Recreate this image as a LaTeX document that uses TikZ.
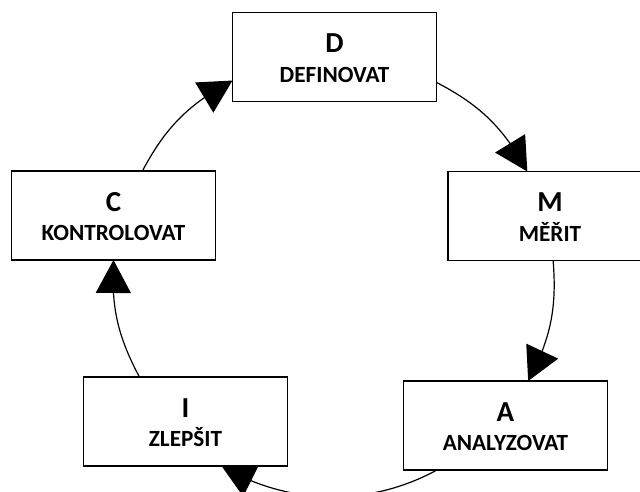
\documentclass[tikz,border=0pt]{standalone}
\usepackage{fontspec}
\setmainfont{Carlito}
\usetikzlibrary{arrows.meta,bending,backgrounds}
\begin{document}
\begin{tikzpicture}[x=1pt,y=1pt,
  stage/.style={draw=black, line width=1.6pt, fill=white,
    minimum width=204pt, minimum height=89pt, inner sep=0pt, outer sep=0pt},
  initial/.style={font=\bfseries\fontsize{29}{29}\selectfont, anchor=base, inner sep=0pt},
  phase/.style={font=\bfseries\fontsize{23.2}{23.2}\selectfont, anchor=base, inner sep=0pt},
  flow/.style={line width=1.2pt, -{Triangle[length=33pt,width=35pt,flex]}}]
\useasboundingbox (0,0) rectangle (640,492);

% DMAIC stages
\node[stage] (D) at (334.5,435) {};
\node[stage] (M) at (550,276) {};
\node[stage] (A) at (505.5,66.5) {};
\node[stage] (I) at (185.5,70.5) {};
\node[stage] (C) at (113.5,276.5) {};

% stage captions: initial letter above the verb
\foreach \s/\w in {D/DEFINOVAT, M/MĚŘIT, A/ANALYZOVAT, I/ZLEPŠIT, C/KONTROLOVAT}{
  \node[initial] (\s-letter) at ([yshift=4pt]\s.center) {\s};
  \node[phase] (\s-word) at ([yshift=-25.5pt]\s.center) {\w};
}

% cycle arrows, kept behind the boxes
\begin{scope}[on background layer]
  \draw[flow] (C.57)  to[bend left=16.85] (D.193);
  \draw[flow] (D.346) to[bend left=16.9]  (M.117);
  \draw[flow] (M.274) to[bend left=16.3]  (A.63);
  \draw[flow] (A.213) to[bend left=29.65, looseness=0.92] (I.309);
  \draw[flow] (I.136) to[bend left=15.5]  (C.south);
\end{scope}
\end{tikzpicture}
\end{document}
